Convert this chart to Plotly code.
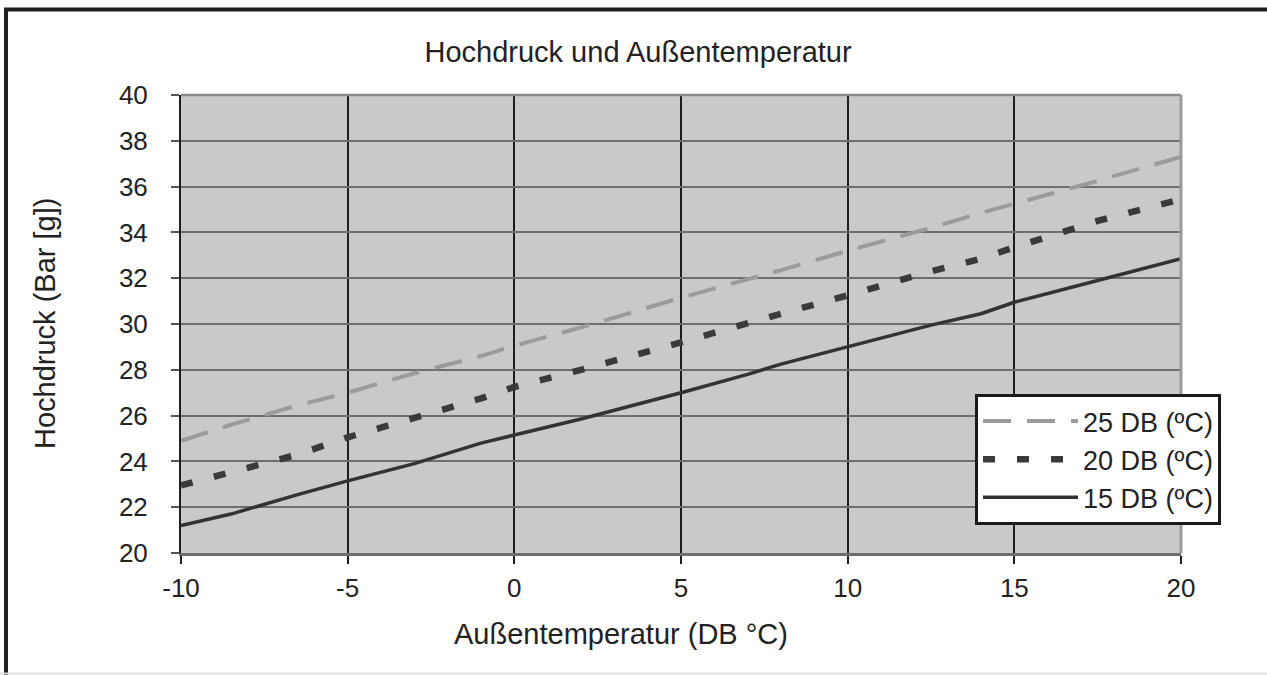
import plotly.graph_objects as go

# Outdoor temperature (°C, dry bulb)
temps = [-10, -8.5, -6.5, -5, -3, -1, 0, 2, 5, 7, 8, 10, 11.5, 12.5, 14, 15, 17.5, 20]

# High pressure (bar g) per indoor dry-bulb temperature
hp_25db = [24.9, 25.6, 26.45, 27.0, 27.85, 28.6, 29.05, 29.85, 31.15, 31.95, 32.35,
           33.2, 33.8, 34.2, 34.85, 35.25, 36.25, 37.3]
hp_20db = [22.95, 23.5, 24.3, 25.05, 25.9, 26.75, 27.25, 28.0, 29.2, 30.05, 30.45,
           31.25, 31.9, 32.3, 32.85, 33.35, 34.5, 35.45]
hp_15db = [21.2, 21.7, 22.55, 23.15, 23.9, 24.8, 25.15, 25.85, 27.0, 27.8, 28.25,
           29.0, 29.6, 29.95, 30.45, 30.95, 31.9, 32.85]

series_names = ["25 DB (ºC)", "20 DB (ºC)", "15 DB (ºC)"]

x_ticks = [-10, -5, 0, 5, 10, 15, 20]
y_ticks = [20, 22, 24, 26, 28, 30, 32, 34, 36, 38, 40]

FONT = "Liberation Sans, Arial, sans-serif"
TXT = "#222222"

fig = go.Figure()
fig.add_trace(go.Scatter(x=temps, y=hp_25db, mode="lines", name=series_names[0],
                         line=dict(color="#9b9b9b", width=4, dash="28px,16px")))
fig.add_trace(go.Scatter(x=temps, y=hp_20db, mode="lines", name=series_names[1],
                         line=dict(color="#3a3a3a", width=6.5, dash="12px,22px")))
fig.add_trace(go.Scatter(x=temps, y=hp_15db, mode="lines", name=series_names[2],
                         line=dict(color="#333333", width=3.5)))

fig.update_layout(
    width=1267, height=675,
    margin=dict(l=181, r=86, t=95, b=122),
    paper_bgcolor="white",
    plot_bgcolor="#c8c9cb",
    font=dict(family=FONT, color=TXT, size=26),
    title=dict(text="Hochdruck und Außentemperatur", x=0.5036, xanchor="center",
               y=1 - 52 / 675, yanchor="middle", yref="container",
               font=dict(size=29, family=FONT, color=TXT)),
    showlegend=True,
    legend=dict(x=0.794, y=0.347, xanchor="left", yanchor="top",
                bgcolor="white", bordercolor="#1a1a1a", borderwidth=3,
                font=dict(size=27, family=FONT, color=TXT),
                itemwidth=95, tracegroupgap=0),
    xaxis=dict(range=[-10, 20], tickvals=x_ticks, ticktext=[str(v) for v in x_ticks],
               showgrid=True, gridcolor="#1e1e1e", gridwidth=1.5,
               showline=True, linecolor="#6e6e6e", linewidth=2.5,
               ticks="outside", ticklen=8, tickcolor="#1e1e1e", tickwidth=1.5,
               ticklabelstandoff=2, zeroline=False,
               tickfont=dict(size=26, family=FONT, color=TXT)),
    yaxis=dict(range=[20, 40], tickvals=y_ticks, ticktext=[str(v) for v in y_ticks],
               showgrid=True, gridcolor="#6e6e6e", gridwidth=2,
               showline=True, linecolor="#1e1e1e", linewidth=2,
               ticks="outside", ticklen=8, tickcolor="#555555", tickwidth=1.5,
               ticklabelstandoff=18, zeroline=False,
               tickfont=dict(size=26, family=FONT, color=TXT)),
    annotations=[
        dict(text="Außentemperatur (DB °C)", xref="paper", yref="paper",
             x=0.44, y=(553 - 634) / 458, xanchor="center", yanchor="middle",
             showarrow=False, font=dict(size=29, family=FONT, color=TXT)),
        dict(text="Hochdruck (Bar [g])", xref="paper", yref="paper",
             x=(45 - 181) / 1000, y=0.5, xanchor="center", yanchor="middle",
             textangle=-90, showarrow=False,
             font=dict(size=29, family=FONT, color=TXT)),
    ],
    shapes=[
        # plot-area frame: grey top and right edges
        dict(type="line", xref="paper", yref="paper", x0=0, x1=1, y0=1, y1=1,
             line=dict(color="#8a8a8a", width=2.5), layer="above"),
        dict(type="line", xref="paper", yref="paper", x0=1, x1=1, y0=0, y1=1,
             line=dict(color="#9a9a9a", width=3), layer="above"),
        # outer frame of the figure
        dict(type="line", xref="paper", yref="paper",
             x0=(6 - 181) / 1000, x1=(6 - 181) / 1000,
             y0=(553 - 8) / 458, y1=(553 - 676) / 458,
             line=dict(color="#1e1e1e", width=4)),
        dict(type="line", xref="paper", yref="paper",
             x0=(4 - 181) / 1000, x1=(1268 - 181) / 1000,
             y0=(553 - 9.5) / 458, y1=(553 - 9.5) / 458,
             line=dict(color="#1e1e1e", width=4)),
        dict(type="line", xref="paper", yref="paper",
             x0=(0 - 181) / 1000, x1=(1268 - 181) / 1000,
             y0=(553 - 673.5) / 458, y1=(553 - 673.5) / 458,
             line=dict(color="#e2e2e2", width=2)),
    ],
)

fig.write_html("out.html")
